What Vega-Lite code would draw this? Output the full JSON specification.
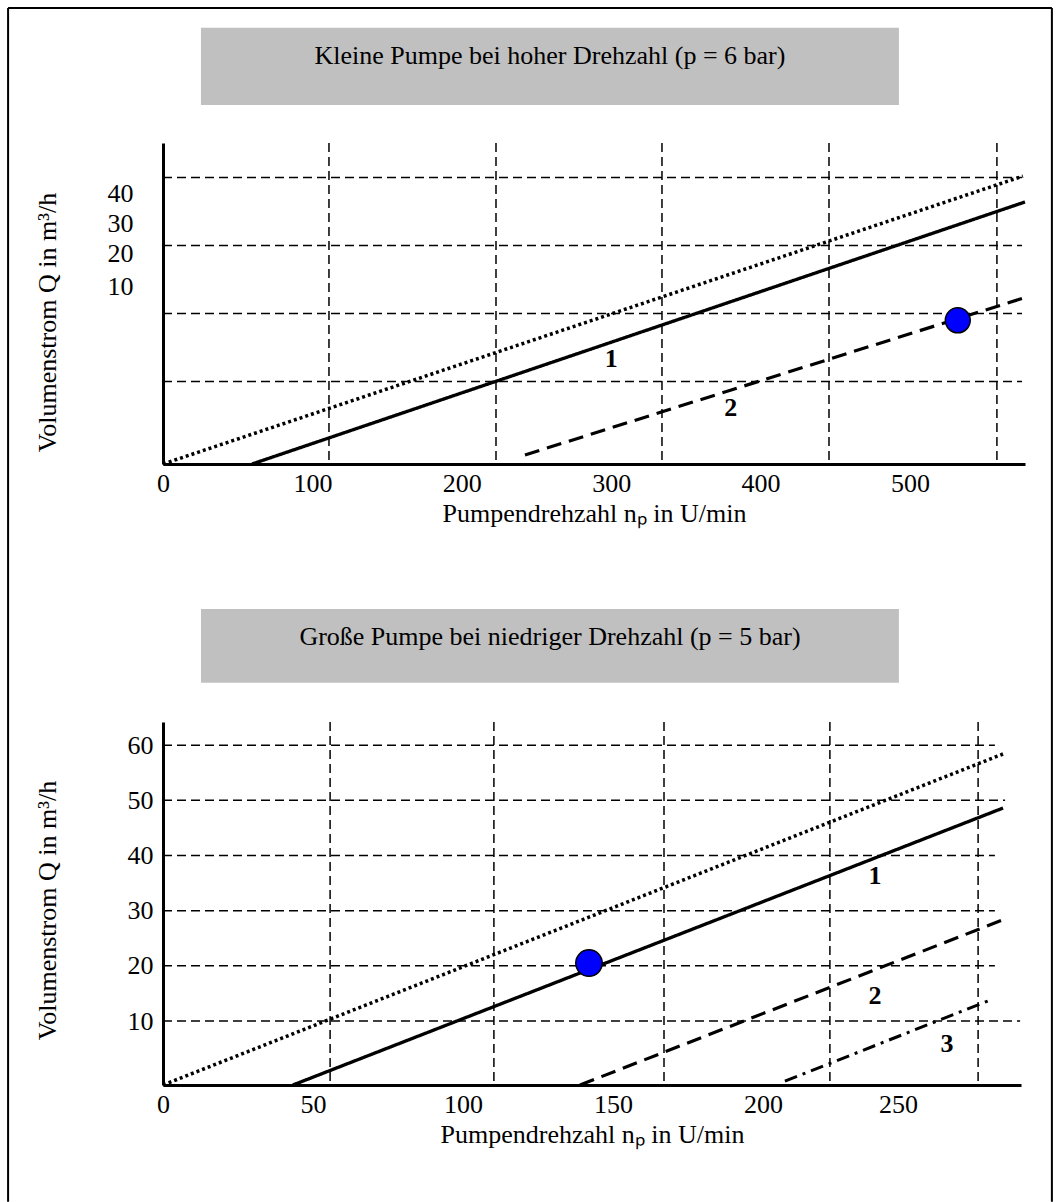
{
  "$schema": "https://vega.github.io/schema/vega-lite/v6.json",
  "autosize": {"type": "pad"},
  "padding": {"left": 7, "top": 6, "right": 0, "bottom": 0},
  "background": "white",
  "bounds": "flush",
  "spacing": 258,
  "config": {
    "font": "Liberation Serif",
    "view": {"stroke": null},
    "axis": {
      "labelFont": "Liberation Serif", "titleFont": "Liberation Serif",
      "labelFontSize": 26, "titleFontSize": 26, "titleFontWeight": "normal",
      "labelColor": "black", "titleColor": "black",
      "domainColor": "black", "domainWidth": 3,
      "ticks": false, "tickSize": 0, "grid": false,
      "labelFlush": false, "labelOverlap": false
    }
  },
  "datasets": {
    "frame": [
      {"n": -103.7, "q": 64.93, "n2": 595, "q2": 64.93},
      {"n": -103.7, "q": 64.93, "n2": -103.7, "q2": -110.6},
      {"n": 595, "q": 64.93, "n2": 595, "q2": -110.6}
    ],
    "topBox": [{"n": 25.4, "n2": 492.6, "q": 62.0, "q2": 50.66, "label": "Kleine Pumpe bei hoher Drehzahl (p = 6 bar)", "nc": 259, "qc": 57.9}],
    "topGridV": [{"n": 111.1}, {"n": 222.9}, {"n": 334.0}, {"n": 445.8}, {"n": 558.2}],
    "topGridH": [{"q": 10, "n": 0, "n2": 575}, {"q": 20, "n": 0, "n2": 575}, {"q": 30, "n": 0, "n2": 575}, {"q": 40, "n": 0, "n2": 575}],
    "topLines": [
      {"s": "dotted", "n": 0, "q": -2.13}, {"s": "dotted", "n": 575.6, "q": 40.2},
      {"s": "solid", "n": 59.6, "q": -2.13}, {"s": "solid", "n": 577, "q": 36.4},
      {"s": "dashed", "n": 242.3, "q": -0.8}, {"s": "dashed", "n": 576.3, "q": 22.3}
    ],
    "topPoint": [{"n": 532, "q": 19.0}],
    "topLabels": [{"n": 300, "q": 13.3, "label": "1"}, {"n": 380, "q": 6.1, "label": "2"}],
    "botBox": [{"n": 12.67, "n2": 245.3, "q": 84.7, "q2": 71.3, "label": "Große Pumpe bei niedriger Drehzahl (p = 5 bar)", "nc": 129, "qc": 79.6}],
    "botGridV": [{"n": 55.7}, {"n": 110.3}, {"n": 167.0}, {"n": 222.3}, {"n": 271.7}],
    "botGridH": [{"q": 10, "n": 0, "n2": 285.7}, {"q": 20, "n": 0, "n2": 277.3}, {"q": 30, "n": 0, "n2": 277.3}, {"q": 40, "n": 0, "n2": 277.3}, {"q": 50, "n": 0, "n2": 280.7}, {"q": 60, "n": 0, "n2": 277.3}],
    "botLines": [
      {"s": "dotted", "n": 0, "q": -1.6}, {"s": "dotted", "n": 280, "q": 58.4},
      {"s": "solid", "n": 43.3, "q": -1.6}, {"s": "solid", "n": 280, "q": 48.6},
      {"s": "dashed", "n": 139, "q": -1.6}, {"s": "dashed", "n": 280.7, "q": 28.5},
      {"s": "dashdot", "n": 207.3, "q": -0.9}, {"s": "dashdot", "n": 276.7, "q": 14.0}
    ],
    "botPoint": [{"n": 142, "q": 20.5}],
    "botLabels": [{"n": 237.3, "q": 36.3, "label": "1"}, {"n": 237.3, "q": 14.5, "label": "2"}, {"n": 261.3, "q": 5.8, "label": "3"}]
  },
  "vconcat": [
    {
      "width": 862, "height": 321,
      "layer": [
        {
          "data": {"name": "topLines"},
          "mark": {"type": "line", "color": "black"},
          "encoding": {
            "x": {"field": "n", "type": "quantitative", "scale": {"domain": [0, 577], "nice": false, "zero": false},
                  "axis": {"values": [0, 100, 200, 300, 400, 500], "title": "Pumpendrehzahl nₚ in U/min", "labelPadding": 6, "titleY": 57, "titleBaseline": "alphabetic"}},
            "y": {"field": "q", "type": "quantitative", "scale": {"domain": [-2.13, 45.07], "nice": false, "zero": false},
                  "axis": {"values": [24.0, 28.75, 33.2, 37.7], "labelExpr": "datum.value < 26 ? '10' : datum.value < 31 ? '20' : datum.value < 35 ? '30' : '40'", "labelPadding": 30, "title": "Volumenstrom Q in m³/h", "titleX": -116, "titleY": 179, "titleBaseline": "middle"}},
            "detail": {"field": "s"},
            "strokeDash": {"field": "s", "type": "nominal", "scale": {"domain": ["dotted", "solid", "dashed", "dashdot"], "range": [[3, 3], [1, 0], [15, 8], [13, 6, 3, 6]]}, "legend": null},
            "strokeWidth": {"field": "s", "type": "ordinal", "scale": {"domain": ["dotted", "solid", "dashed", "dashdot"], "range": [3.5, 3, 3, 2.5]}, "legend": null}
          }
        },
        {
          "data": {"name": "frame"},
          "mark": {"type": "rule", "strokeWidth": 2, "color": "black"},
          "encoding": {
            "x": {"field": "n", "type": "quantitative", "scale": {"domain": [0, 577], "nice": false, "zero": false}},
            "x2": {"field": "n2"},
            "y": {"field": "q", "type": "quantitative", "scale": {"domain": [-2.13, 45.07], "nice": false, "zero": false}},
            "y2": {"field": "q2"}
          }
        },
        {
          "data": {"name": "topBox"},
          "mark": {"type": "rect", "color": "#c0c0c0"},
          "encoding": {
            "x": {"field": "n", "type": "quantitative", "scale": {"domain": [0, 577], "nice": false, "zero": false}},
            "x2": {"field": "n2"},
            "y": {"field": "q", "type": "quantitative", "scale": {"domain": [-2.13, 45.07], "nice": false, "zero": false}},
            "y2": {"field": "q2"}
          }
        },
        {
          "data": {"name": "topBox"},
          "mark": {"type": "text", "fontSize": 26, "font": "Liberation Serif", "color": "black", "align": "center", "baseline": "middle"},
          "encoding": {
            "x": {"field": "nc", "type": "quantitative", "scale": {"domain": [0, 577], "nice": false, "zero": false}},
            "y": {"field": "qc", "type": "quantitative", "scale": {"domain": [-2.13, 45.07], "nice": false, "zero": false}},
            "text": {"field": "label"}
          }
        },
        {
          "data": {"name": "topGridV"},
          "mark": {"type": "rule", "strokeWidth": 1.5, "strokeDash": [9, 5], "color": "black"},
          "encoding": {
            "x": {"field": "n", "type": "quantitative", "scale": {"domain": [0, 577], "nice": false, "zero": false}}
          }
        },
        {
          "data": {"name": "topGridH"},
          "mark": {"type": "rule", "strokeWidth": 1.5, "strokeDash": [9, 5], "color": "black"},
          "encoding": {
            "y": {"field": "q", "type": "quantitative", "scale": {"domain": [-2.13, 45.07], "nice": false, "zero": false}},
            "x": {"field": "n", "type": "quantitative", "scale": {"domain": [0, 577], "nice": false, "zero": false}},
            "x2": {"field": "n2"}
          }
        },
        {
          "data": {"name": "topPoint"},
          "mark": {"type": "circle", "size": 620, "fill": "#0000ff", "stroke": "black", "strokeWidth": 1.5, "opacity": 1},
          "encoding": {
            "x": {"field": "n", "type": "quantitative", "scale": {"domain": [0, 577], "nice": false, "zero": false}},
            "y": {"field": "q", "type": "quantitative", "scale": {"domain": [-2.13, 45.07], "nice": false, "zero": false}}
          }
        },
        {
          "data": {"name": "topLabels"},
          "mark": {"type": "text", "fontSize": 26, "fontWeight": "bold", "font": "Liberation Serif", "color": "black", "align": "center", "baseline": "middle"},
          "encoding": {
            "x": {"field": "n", "type": "quantitative", "scale": {"domain": [0, 577], "nice": false, "zero": false}},
            "y": {"field": "q", "type": "quantitative", "scale": {"domain": [-2.13, 45.07], "nice": false, "zero": false}},
            "text": {"field": "label"}
          }
        }
      ]
    },
    {
      "width": 858, "height": 363,
      "layer": [
        {
          "data": {"name": "botLines"},
          "mark": {"type": "line", "color": "black"},
          "encoding": {
            "x": {"field": "n", "type": "quantitative", "scale": {"domain": [0, 286], "nice": false, "zero": false},
                  "axis": {"values": [0, 50, 100, 150, 200, 245], "labelExpr": "datum.value > 240 ? '250' : datum.label", "title": "Pumpendrehzahl nₚ in U/min", "labelPadding": 6, "titleY": 57, "titleBaseline": "alphabetic"}},
            "y": {"field": "q", "type": "quantitative", "scale": {"domain": [-1.6, 64.2], "nice": false, "zero": false},
                  "axis": {"values": [10, 20, 30, 40, 50, 60], "labelPadding": 10, "title": "Volumenstrom Q in m³/h", "titleX": -116, "titleY": 188, "titleBaseline": "middle"}},
            "detail": {"field": "s"},
            "strokeDash": {"field": "s", "type": "nominal", "scale": {"domain": ["dotted", "solid", "dashed", "dashdot"], "range": [[3, 3], [1, 0], [15, 8], [13, 6, 3, 6]]}, "legend": null},
            "strokeWidth": {"field": "s", "type": "ordinal", "scale": {"domain": ["dotted", "solid", "dashed", "dashdot"], "range": [3.5, 3, 3, 2.5]}, "legend": null}
          }
        },
        {
          "data": {"name": "botBox"},
          "mark": {"type": "rect", "color": "#c0c0c0"},
          "encoding": {
            "x": {"field": "n", "type": "quantitative", "scale": {"domain": [0, 286], "nice": false, "zero": false}},
            "x2": {"field": "n2"},
            "y": {"field": "q", "type": "quantitative", "scale": {"domain": [-1.6, 64.2], "nice": false, "zero": false}},
            "y2": {"field": "q2"}
          }
        },
        {
          "data": {"name": "botBox"},
          "mark": {"type": "text", "fontSize": 26, "font": "Liberation Serif", "color": "black", "align": "center", "baseline": "middle"},
          "encoding": {
            "x": {"field": "nc", "type": "quantitative", "scale": {"domain": [0, 286], "nice": false, "zero": false}},
            "y": {"field": "qc", "type": "quantitative", "scale": {"domain": [-1.6, 64.2], "nice": false, "zero": false}},
            "text": {"field": "label"}
          }
        },
        {
          "data": {"name": "botGridV"},
          "mark": {"type": "rule", "strokeWidth": 1.5, "strokeDash": [9, 5], "color": "black"},
          "encoding": {
            "x": {"field": "n", "type": "quantitative", "scale": {"domain": [0, 286], "nice": false, "zero": false}}
          }
        },
        {
          "data": {"name": "botGridH"},
          "mark": {"type": "rule", "strokeWidth": 1.5, "strokeDash": [9, 5], "color": "black"},
          "encoding": {
            "y": {"field": "q", "type": "quantitative", "scale": {"domain": [-1.6, 64.2], "nice": false, "zero": false}},
            "x": {"field": "n", "type": "quantitative", "scale": {"domain": [0, 286], "nice": false, "zero": false}},
            "x2": {"field": "n2"}
          }
        },
        {
          "data": {"name": "botPoint"},
          "mark": {"type": "circle", "size": 700, "fill": "#0000ff", "stroke": "black", "strokeWidth": 1.5, "opacity": 1},
          "encoding": {
            "x": {"field": "n", "type": "quantitative", "scale": {"domain": [0, 286], "nice": false, "zero": false}},
            "y": {"field": "q", "type": "quantitative", "scale": {"domain": [-1.6, 64.2], "nice": false, "zero": false}}
          }
        },
        {
          "data": {"name": "botLabels"},
          "mark": {"type": "text", "fontSize": 26, "fontWeight": "bold", "font": "Liberation Serif", "color": "black", "align": "center", "baseline": "middle"},
          "encoding": {
            "x": {"field": "n", "type": "quantitative", "scale": {"domain": [0, 286], "nice": false, "zero": false}},
            "y": {"field": "q", "type": "quantitative", "scale": {"domain": [-1.6, 64.2], "nice": false, "zero": false}},
            "text": {"field": "label"}
          }
        }
      ]
    }
  ]
}
